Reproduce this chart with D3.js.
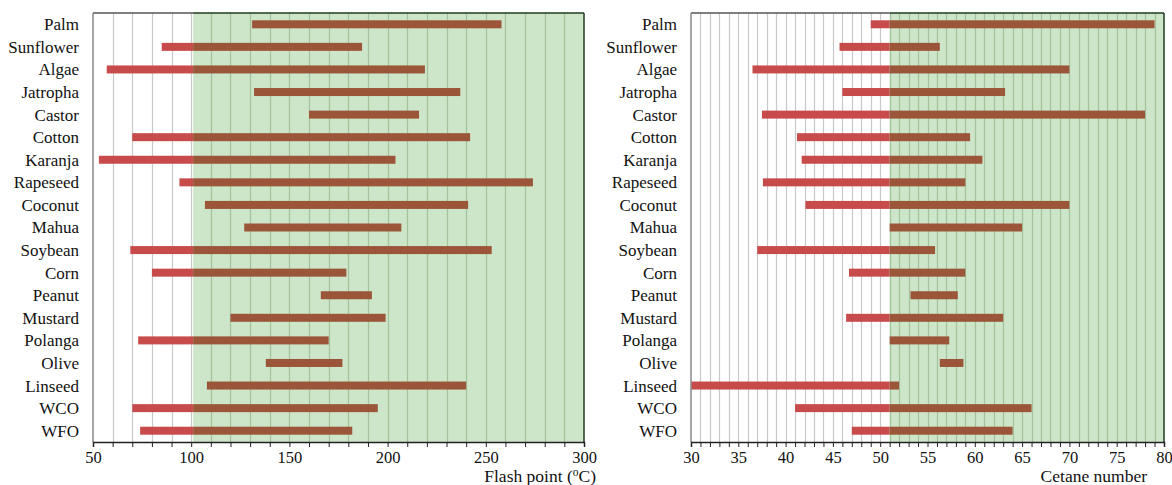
<!DOCTYPE html>
<html>
<head>
<meta charset="utf-8">
<script src="https://cdn.jsdelivr.net/npm/d3@7"></script>
<style>
  html, body { margin: 0; padding: 0; background: #fff; }
  svg { display: block; }
  text { font-family: "Liberation Serif", "Times New Roman", serif; fill: #111; }
</style>
</head>
<body>
<svg id="chart" width="1172" height="485"></svg>
<script>
// Feedstocks, top to bottom
const categories = ["Palm", "Sunflower", "Algae", "Jatropha", "Castor", "Cotton", "Karanja",
  "Rapeseed", "Coconut", "Mahua", "Soybean", "Corn", "Peanut", "Mustard", "Polanga",
  "Olive", "Linseed", "WCO", "WFO"];

// Flash point range (°C)
const flashMin = [131, 85, 57, 132, 160, 70, 53, 94, 107, 127, 69, 80, 166, 120, 73, 138, 108, 70, 74];
const flashMax = [258, 187, 219, 237, 216, 242, 204, 274, 241, 207, 253, 179, 192, 199, 170, 177, 240, 195, 182];

// Cetane number range
const cetaneMin = [49, 45.7, 36.5, 46, 37.5, 41.2, 41.7, 37.6, 42.1, 51, 37, 46.7, 53.2, 46.4, 51, 56.3, 30, 41, 47];
const cetaneMax = [79, 56.3, 70, 63.2, 78, 59.5, 60.8, 59, 70, 65, 55.8, 59, 58.2, 63, 57.3, 58.8, 52, 66, 64];

// Standard limits (shaded acceptable zone starts here)
const flashLimit = 101;
const cetaneLimit = 51;

// Axis tick labels
const flashTicks = [50, 100, 150, 200, 250, 300];
const cetaneTicks = [30, 35, 40, 45, 50, 55, 60, 65, 70, 75, 80];

const svg = d3.select("#chart");
const plotTop = 13, plotBottom = 442;

const y = d3.scaleBand().domain(categories).range([plotTop, plotBottom]).padding(0);
const barH = 8;

const colRed = "#c84b4b";
const colBrown = "#9b5539";
const colGreen = "#cde5c8";
const gridGray = "#c8c8c8";
const gridGreen = "#a3c39c";

function panel(cfg) {
  const x = d3.scaleLinear().domain(cfg.domain).range([cfg.x0, cfg.x1]);
  const g = svg.append("g");

  // acceptable-zone shading
  g.append("rect")
    .attr("x", x(cfg.limit)).attr("y", plotTop)
    .attr("width", x(cfg.domain[1]) - x(cfg.limit)).attr("height", plotBottom - plotTop)
    .attr("fill", colGreen);

  // vertical gridlines
  const grid = d3.range(cfg.domain[0] + cfg.gridStep, cfg.domain[1], cfg.gridStep);
  g.selectAll(".grid").data(grid).join("line")
    .attr("x1", d => Math.round(x(d)) + 0.5).attr("x2", d => Math.round(x(d)) + 0.5)
    .attr("y1", plotTop).attr("y2", plotBottom)
    .attr("stroke", d => d >= cfg.limit ? gridGreen : gridGray)
    .attr("stroke-width", 1.2);

  // bars: part below the limit in red, part above in brown
  categories.forEach((c, i) => {
    const lo = cfg.min[i], hi = cfg.max[i];
    const yc = y(c) + y.bandwidth() / 2;
    if (lo < cfg.limit) {
      g.append("rect")
        .attr("x", x(lo)).attr("y", yc - barH / 2)
        .attr("width", x(Math.min(hi, cfg.limit)) - x(lo)).attr("height", barH)
        .attr("fill", colRed);
    }
    if (hi > cfg.limit) {
      const s = Math.max(lo, cfg.limit);
      g.append("rect")
        .attr("x", x(s)).attr("y", yc - barH / 2)
        .attr("width", x(hi) - x(s)).attr("height", barH)
        .attr("fill", colBrown);
    }
  });

  // frame: top, right and left edges
  g.append("line").attr("x1", cfg.x0).attr("x2", x(cfg.limit)).attr("y1", plotTop).attr("y2", plotTop)
    .attr("stroke", "#555").attr("stroke-width", 1.5);
  g.append("line").attr("x1", x(cfg.limit)).attr("x2", cfg.x1).attr("y1", plotTop).attr("y2", plotTop)
    .attr("stroke", "#1f3b1f").attr("stroke-width", 1.5);
  g.append("line").attr("x1", cfg.x1).attr("x2", cfg.x1).attr("y1", plotTop).attr("y2", plotBottom)
    .attr("stroke", "#1f3b1f").attr("stroke-width", 1.5);
  g.append("line").attr("x1", cfg.x0).attr("x2", cfg.x0).attr("y1", plotTop).attr("y2", plotBottom)
    .attr("stroke", "#8a8a8a").attr("stroke-width", 1.5);

  // bottom axis with minor ticks
  const ax = g.append("g").attr("transform", `translate(0,${plotBottom})`)
    .call(d3.axisBottom(x)
      .tickValues(d3.range(cfg.domain[0], cfg.domain[1] + 0.001, cfg.tickStep))
      .tickSize(5)
      .tickFormat(d => cfg.ticks.includes(d) ? d : ""));
  ax.select(".domain").attr("stroke", "#222").attr("stroke-width", 1.5);
  ax.selectAll(".tick line").attr("stroke", "#222");
  ax.selectAll(".tick text")
    .attr("y", 21).attr("dy", null)
    .style("font-family", "Liberation Serif, serif").style("font-size", "16.5px").attr("fill", "#111");

  // category labels
  g.selectAll(".cat").data(categories).join("text")
    .attr("x", cfg.labelX).attr("y", d => y(d) + y.bandwidth() / 2)
    .attr("dy", "0.35em").attr("text-anchor", "end")
    .style("font-size", "17px")
    .text(d => d);

  // axis title
  cfg.title(g);
}

panel({
  domain: [50, 300], x0: 93, x1: 584, limit: flashLimit,
  min: flashMin, max: flashMax, gridStep: 10, tickStep: 10, ticks: flashTicks,
  labelX: 79,
  title: g => {
    const t = g.append("text").attr("x", 596).attr("y", 481.5).attr("text-anchor", "end")
      .style("font-size", "17.5px");
    t.append("tspan").text("Flash point (");
    t.append("tspan").attr("baseline-shift", "super").style("font-size", "11.5px").text("o");
    t.append("tspan").text("C)");
  }
});

panel({
  domain: [30, 80], x0: 691, x1: 1164, limit: cetaneLimit,
  min: cetaneMin, max: cetaneMax, gridStep: 1, tickStep: 1, ticks: cetaneTicks,
  labelX: 677,
  title: g => {
    g.append("text").attr("x", 1147).attr("y", 481.5).attr("text-anchor", "end")
      .style("font-size", "17.5px").text("Cetane number");
  }
});
</script>
</body>
</html>
